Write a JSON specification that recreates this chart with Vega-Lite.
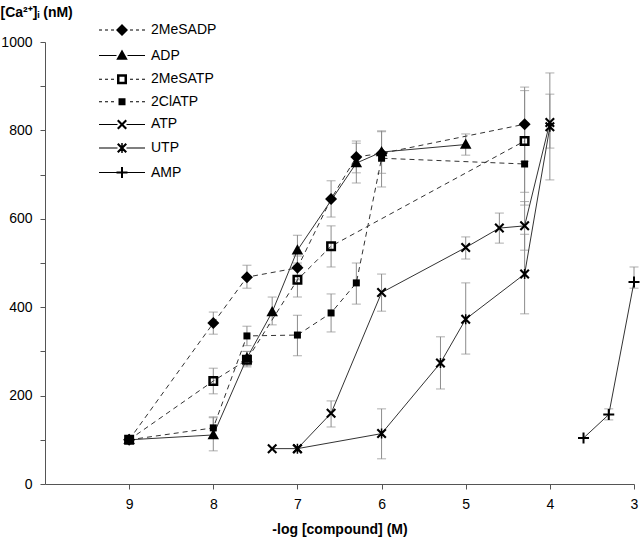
{
  "$schema": "https://vega.github.io/schema/vega-lite/v6.json",
  "width": 589,
  "height": 442,
  "autosize": "none",
  "padding": {"left": 45, "top": 42, "right": 6, "bottom": 61},
  "background": "white",
  "config": {
    "font": "Liberation Sans",
    "view": {"stroke": null},
    "axis": {"grid": false, "domainColor": "#555", "tickColor": "#555", "labelColor": "#000", "labelFontSize": 14, "titleFontSize": 14, "titleFontWeight": "bold", "titleColor": "#000"}
  },
  "datasets": {
    "pts": [
      {"series": "2MeSADP", "x": 9, "y": 100}, {"series": "2MeSADP", "x": 8, "y": 364}, {"series": "2MeSADP", "x": 7.6, "y": 468}, {"series": "2MeSADP", "x": 7, "y": 489}, {"series": "2MeSADP", "x": 6.6, "y": 645}, {"series": "2MeSADP", "x": 6.3, "y": 740}, {"series": "2MeSADP", "x": 6, "y": 748}, {"series": "2MeSADP", "x": 4.3, "y": 814},
      {"series": "ADP", "x": 9, "y": 100}, {"series": "ADP", "x": 8, "y": 111}, {"series": "ADP", "x": 7.6, "y": 285}, {"series": "ADP", "x": 7.3, "y": 389}, {"series": "ADP", "x": 7, "y": 529}, {"series": "ADP", "x": 6.3, "y": 726}, {"series": "ADP", "x": 6, "y": 751}, {"series": "ADP", "x": 5, "y": 768},
      {"series": "2MeSATP", "x": 9, "y": 100}, {"series": "2MeSATP", "x": 8, "y": 233}, {"series": "2MeSATP", "x": 7.6, "y": 281}, {"series": "2MeSATP", "x": 7, "y": 462}, {"series": "2MeSATP", "x": 6.6, "y": 538}, {"series": "2MeSATP", "x": 4.3, "y": 776},
      {"series": "2ClATP", "x": 9, "y": 100}, {"series": "2ClATP", "x": 8, "y": 127}, {"series": "2ClATP", "x": 7.6, "y": 335}, {"series": "2ClATP", "x": 7, "y": 337}, {"series": "2ClATP", "x": 6.6, "y": 387}, {"series": "2ClATP", "x": 6.3, "y": 455}, {"series": "2ClATP", "x": 6, "y": 737}, {"series": "2ClATP", "x": 4.3, "y": 724},
      {"series": "ATP", "x": 7.3, "y": 80}, {"series": "ATP", "x": 7, "y": 80}, {"series": "ATP", "x": 6.6, "y": 160}, {"series": "ATP", "x": 6, "y": 433}, {"series": "ATP", "x": 5, "y": 535}, {"series": "ATP", "x": 4.6, "y": 579}, {"series": "ATP", "x": 4.3, "y": 584}, {"series": "ATP", "x": 4, "y": 818},
      {"series": "UTP", "x": 7, "y": 80}, {"series": "UTP", "x": 6, "y": 114}, {"series": "UTP", "x": 5.3, "y": 274}, {"series": "UTP", "x": 5, "y": 373}, {"series": "UTP", "x": 4.3, "y": 475}, {"series": "UTP", "x": 4, "y": 808},
      {"series": "AMP", "x": 3.6, "y": 104}, {"series": "AMP", "x": 3.3, "y": 157}, {"series": "AMP", "x": 3, "y": 457}
    ],
    "err": [
      {"series": "2MeSADP", "x": 8, "lo": 339, "hi": 389}, {"series": "2MeSADP", "x": 7.6, "lo": 443, "hi": 495}, {"series": "2MeSADP", "x": 7, "lo": 462, "hi": 516}, {"series": "2MeSADP", "x": 6.6, "lo": 604, "hi": 686}, {"series": "2MeSADP", "x": 6.3, "lo": 704, "hi": 776}, {"series": "2MeSADP", "x": 4.3, "lo": 730, "hi": 898},
      {"series": "ADP", "x": 8, "lo": 75, "hi": 152}, {"series": "ADP", "x": 7.6, "lo": 268, "hi": 300}, {"series": "ADP", "x": 7.3, "lo": 360, "hi": 423}, {"series": "ADP", "x": 7, "lo": 495, "hi": 563}, {"series": "ADP", "x": 6.3, "lo": 681, "hi": 771}, {"series": "ADP", "x": 6, "lo": 703, "hi": 799}, {"series": "ADP", "x": 5, "lo": 744, "hi": 792},
      {"series": "2MeSATP", "x": 8, "lo": 204, "hi": 262}, {"series": "2MeSATP", "x": 7.6, "lo": 265, "hi": 300}, {"series": "2MeSATP", "x": 7, "lo": 423, "hi": 500}, {"series": "2MeSATP", "x": 6.6, "lo": 491, "hi": 584}, {"series": "2MeSATP", "x": 4.3, "lo": 660, "hi": 890},
      {"series": "2ClATP", "x": 8, "lo": 105, "hi": 150}, {"series": "2ClATP", "x": 7.6, "lo": 313, "hi": 357}, {"series": "2ClATP", "x": 7, "lo": 290, "hi": 382}, {"series": "2ClATP", "x": 6.6, "lo": 344, "hi": 430}, {"series": "2ClATP", "x": 6.3, "lo": 407, "hi": 500}, {"series": "2ClATP", "x": 6, "lo": 672, "hi": 797}, {"series": "2ClATP", "x": 4.3, "lo": 631, "hi": 817},
      {"series": "ATP", "x": 6.6, "lo": 129, "hi": 188}, {"series": "ATP", "x": 6, "lo": 391, "hi": 475}, {"series": "ATP", "x": 5, "lo": 509, "hi": 559}, {"series": "ATP", "x": 4.6, "lo": 545, "hi": 613}, {"series": "ATP", "x": 4.3, "lo": 529, "hi": 639}, {"series": "ATP", "x": 4, "lo": 760, "hi": 882},
      {"series": "UTP", "x": 6, "lo": 57, "hi": 170}, {"series": "UTP", "x": 5.3, "lo": 215, "hi": 333}, {"series": "UTP", "x": 5, "lo": 294, "hi": 455}, {"series": "UTP", "x": 4.3, "lo": 385, "hi": 565}, {"series": "UTP", "x": 4, "lo": 688, "hi": 930},
      {"series": "AMP", "x": 3.3, "lo": 145, "hi": 170}, {"series": "AMP", "x": 3, "lo": 443, "hi": 491}
    ]
  },
  "resolve": {"scale": {"shape": "independent"}, "legend": {"shape": "independent"}},
  "encoding": {
    "x": {
      "field": "x", "type": "quantitative",
      "scale": {"domain": [3, 10], "reverse": true, "nice": false, "zero": false},
      "axis": {"values": [3, 4, 5, 6, 7, 8, 9], "format": "d", "title": "-log [compound] (M)", "tickSize": 5, "labelPadding": 8, "titleY": 45, "titleBaseline": "middle", "labelFlush": false}
    }
  },
  "layer": [
    {
      "data": {"name": "err"},
      "mark": {"type": "rule", "color": "#8c8c8c", "strokeWidth": 1},
      "encoding": {
        "y": {"field": "lo", "type": "quantitative", "scale": {"domain": [0, 1000], "nice": false},
          "axis": {"values": [0, 100, 200, 300, 400, 500, 600, 700, 800, 900, 1000], "labelExpr": "datum.value % 200 === 0 ? datum.label : ''", "format": "d", "tickSize": 5, "labelPadding": 8, "title": "[Ca²⁺]ᵢ (nM)", "titleAngle": 0, "titleAlign": "left", "titleBaseline": "middle", "titleX": -45, "titleY": -30}},
        "y2": {"field": "hi"}
      }
    },
    {
      "data": {"name": "err"},
      "mark": {"type": "tick", "orient": "horizontal", "color": "#8c8c8c", "size": 9, "thickness": 1},
      "encoding": {"y": {"field": "lo", "type": "quantitative",
          "axis": {"values": [0, 100, 200, 300, 400, 500, 600, 700, 800, 900, 1000], "labelExpr": "datum.value % 200 === 0 ? datum.label : ''", "format": "d", "tickSize": 5, "labelPadding": 8, "title": "[Ca²⁺]ᵢ (nM)", "titleAngle": 0, "titleAlign": "left", "titleBaseline": "middle", "titleX": -45, "titleY": -30}}}
    },
    {
      "data": {"name": "err"},
      "mark": {"type": "tick", "orient": "horizontal", "color": "#8c8c8c", "size": 9, "thickness": 1},
      "encoding": {"y": {"field": "hi", "type": "quantitative",
          "axis": {"values": [0, 100, 200, 300, 400, 500, 600, 700, 800, 900, 1000], "labelExpr": "datum.value % 200 === 0 ? datum.label : ''", "format": "d", "tickSize": 5, "labelPadding": 8, "title": "[Ca²⁺]ᵢ (nM)", "titleAngle": 0, "titleAlign": "left", "titleBaseline": "middle", "titleX": -45, "titleY": -30}}}
    },
    {
      "data": {"name": "pts"},
      "transform": [{"filter": {"field": "series", "oneOf": ["2MeSADP", "2MeSATP", "2ClATP"]}}],
      "mark": {"type": "line", "color": "#333", "strokeWidth": 1, "strokeDash": [5, 4]},
      "encoding": {
        "y": {"field": "y", "type": "quantitative",
          "axis": {"values": [0, 100, 200, 300, 400, 500, 600, 700, 800, 900, 1000], "labelExpr": "datum.value % 200 === 0 ? datum.label : ''", "format": "d", "tickSize": 5, "labelPadding": 8, "title": "[Ca²⁺]ᵢ (nM)", "titleAngle": 0, "titleAlign": "left", "titleBaseline": "middle", "titleX": -45, "titleY": -30}},
        "detail": {"field": "series"}
      }
    },
    {
      "data": {"name": "pts"},
      "transform": [{"filter": {"field": "series", "oneOf": ["ADP", "ATP", "UTP", "AMP"]}}],
      "mark": {"type": "line", "color": "#333", "strokeWidth": 1},
      "encoding": {
        "y": {"field": "y", "type": "quantitative",
          "axis": {"values": [0, 100, 200, 300, 400, 500, 600, 700, 800, 900, 1000], "labelExpr": "datum.value % 200 === 0 ? datum.label : ''", "format": "d", "tickSize": 5, "labelPadding": 8, "title": "[Ca²⁺]ᵢ (nM)", "titleAngle": 0, "titleAlign": "left", "titleBaseline": "middle", "titleX": -45, "titleY": -30}},
        "detail": {"field": "series"}
      }
    },
    {
      "data": {"name": "pts"},
      "mark": {"type": "point", "filled": true, "color": "#000", "opacity": 1, "size": 100, "strokeWidth": 0},
      "encoding": {
        "y": {
          "field": "y", "type": "quantitative",
          "axis": {"values": [0, 100, 200, 300, 400, 500, 600, 700, 800, 900, 1000], "labelExpr": "datum.value % 200 === 0 ? datum.label : ''", "format": "d", "tickSize": 5, "labelPadding": 8, "title": "[Ca²⁺]ᵢ (nM)", "titleAngle": 0, "titleAlign": "left", "titleBaseline": "middle", "titleX": -45, "titleY": -30}
        },
        "shape": {
          "field": "series", "type": "nominal", "legend": null,
          "scale": {
            "domain": ["2MeSADP", "ADP", "2MeSATP", "2ClATP", "ATP", "UTP", "AMP"],
            "range": [
              "M0,-1.2L1.2,0L0,1.2L-1.2,0Z",
              "M0,-1.2L1.15,0.85L-1.15,0.85Z",
              "M-1,-1L1,-1L1,1L-1,1ZM-0.5,-0.5L-0.5,0.5L0.5,0.5L0.5,-0.5Z",
              "M-0.7,-0.7L0.7,-0.7L0.7,0.7L-0.7,0.7Z",
              "M-1,-0.7L-0.7,-1L0,-0.3L0.7,-1L1,-0.7L0.3,0L1,0.7L0.7,1L0,0.3L-0.7,1L-1,0.7L-0.3,0Z",
              "M-1,-0.7L-0.7,-1L0,-0.3L0.7,-1L1,-0.7L0.3,0L1,0.7L0.7,1L0,0.3L-0.7,1L-1,0.7L-0.3,0ZM-0.15,-1L0.15,-1L0.15,1L-0.15,1Z",
              "M-0.2,-1.1L0.2,-1.1L0.2,-0.2L1.1,-0.2L1.1,0.2L0.2,0.2L0.2,1.1L-0.2,1.1L-0.2,0.2L-1.1,0.2L-1.1,-0.2L-0.2,-0.2Z"
            ]
          }
        }
      }
    },
    {
      "data": {"name": "pts"},
      "transform": [{"filter": "datum.x > 100"}],
      "mark": {"type": "point", "filled": true, "color": "#000", "opacity": 1, "size": 100, "strokeWidth": 0},
      "encoding": {
        "y": {
          "field": "y", "type": "quantitative",
          "axis": {"values": [0, 100, 200, 300, 400, 500, 600, 700, 800, 900, 1000], "labelExpr": "datum.value % 200 === 0 ? datum.label : ''", "format": "d", "tickSize": 5, "labelPadding": 8, "title": "[Ca²⁺]ᵢ (nM)", "titleAngle": 0, "titleAlign": "left", "titleBaseline": "middle", "titleX": -45, "titleY": -30}
        },
        "shape": {
          "field": "series", "type": "nominal",
          "scale": {
            "domain": ["2MeSADP", "ADP", "2MeSATP", "2ClATP", "ATP", "UTP", "AMP"],
            "range": [
              "M-4.6,-0.1L-4,-0.1L-4,0.1L-4.6,0.1ZM-3.4,-0.1L-2.8,-0.1L-2.8,0.1L-3.4,0.1ZM-2.2,-0.1L-1.6,-0.1L-1.6,0.1L-2.2,0.1ZM1.6,-0.1L2.2,-0.1L2.2,0.1L1.6,0.1ZM2.8,-0.1L3.4,-0.1L3.4,0.1L2.8,0.1ZM4,-0.1L4.6,-0.1L4.6,0.1L4,0.1ZM0,-1.2L1.2,0L0,1.2L-1.2,0Z",
              "M-4.6,-0.1L-1.1,-0.1L-1.1,0.1L-4.6,0.1ZM1.1,-0.1L4.6,-0.1L4.6,0.1L1.1,0.1ZM0,-1.2L1.15,0.85L-1.15,0.85Z",
              "M-4.6,-0.1L-4,-0.1L-4,0.1L-4.6,0.1ZM-3.4,-0.1L-2.8,-0.1L-2.8,0.1L-3.4,0.1ZM-2.2,-0.1L-1.6,-0.1L-1.6,0.1L-2.2,0.1ZM1.6,-0.1L2.2,-0.1L2.2,0.1L1.6,0.1ZM2.8,-0.1L3.4,-0.1L3.4,0.1L2.8,0.1ZM4,-0.1L4.6,-0.1L4.6,0.1L4,0.1ZM-1,-1L1,-1L1,1L-1,1ZM-0.5,-0.5L-0.5,0.5L0.5,0.5L0.5,-0.5Z",
              "M-4.6,-0.1L-4,-0.1L-4,0.1L-4.6,0.1ZM-3.4,-0.1L-2.8,-0.1L-2.8,0.1L-3.4,0.1ZM-2.2,-0.1L-1.6,-0.1L-1.6,0.1L-2.2,0.1ZM1.6,-0.1L2.2,-0.1L2.2,0.1L1.6,0.1ZM2.8,-0.1L3.4,-0.1L3.4,0.1L2.8,0.1ZM4,-0.1L4.6,-0.1L4.6,0.1L4,0.1ZM-0.7,-0.7L0.7,-0.7L0.7,0.7L-0.7,0.7Z",
              "M-4.6,-0.1L-0.9,-0.1L-0.9,0.1L-4.6,0.1ZM0.9,-0.1L4.6,-0.1L4.6,0.1L0.9,0.1ZM-1,-0.7L-0.7,-1L0,-0.3L0.7,-1L1,-0.7L0.3,0L1,0.7L0.7,1L0,0.3L-0.7,1L-1,0.7L-0.3,0Z",
              "M-4.6,-0.1L-0.9,-0.1L-0.9,0.1L-4.6,0.1ZM0.9,-0.1L4.6,-0.1L4.6,0.1L0.9,0.1ZM-1,-0.7L-0.7,-1L0,-0.3L0.7,-1L1,-0.7L0.3,0L1,0.7L0.7,1L0,0.3L-0.7,1L-1,0.7L-0.3,0ZM-0.15,-1L0.15,-1L0.15,1L-0.15,1Z",
              "M-4.6,-0.1L-1,-0.1L-1,0.1L-4.6,0.1ZM1,-0.1L4.6,-0.1L4.6,0.1L1,0.1ZM-0.2,-1.1L0.2,-1.1L0.2,-0.2L1.1,-0.2L1.1,0.2L0.2,0.2L0.2,1.1L-0.2,1.1L-0.2,0.2L-1.1,0.2L-1.1,-0.2L-0.2,-0.2Z"
            ]
          },
          "legend": {
            "orient": "none", "legendX": 70, "legendY": -19, "title": null, "padding": 0,
            "symbolSize": 100, "labelFontSize": 14, "labelOffset": 22, "rowPadding": 7.6,
            "symbolFillColor": "#000", "symbolOpacity": 1, "labelColor": "#000"
          }
        }
      }
    }
  ]
}
